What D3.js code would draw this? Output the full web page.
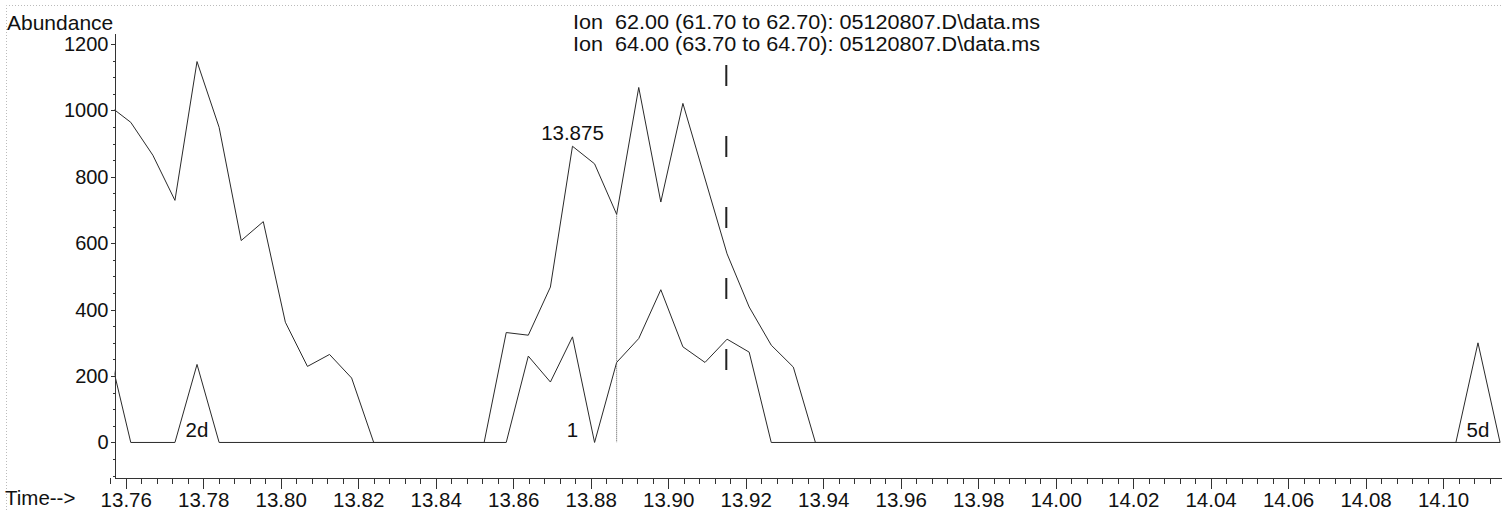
<!DOCTYPE html>
<html>
<head>
<meta charset="utf-8">
<script src="https://cdn.jsdelivr.net/npm/d3@7"></script>
<style>
    html, body { margin: 0; padding: 0; background: #fff; }
    svg { display: block; font-family: "Liberation Sans", Arial, Helvetica, sans-serif; }
    .trace { fill: none; stroke: #2a2a2a; stroke-width: 1; stroke-linejoin: miter; }
    .axis path, .axis line { stroke: #333; shape-rendering: crispEdges; }
    .axis text { fill: #111; }
</style>
</head>
<body>
<script>
// retention times of the scans (min), ion 62.00 trace
const ion62Times = [13.7556, 13.7613, 13.7670, 13.7727, 13.7784, 13.7841, 13.7898, 13.7955,
    13.8012, 13.8069, 13.8126, 13.8183, 13.8240, 13.8525, 13.8582, 13.8639, 13.8696, 13.8753,
    13.8810, 13.8867, 13.8924, 13.8981, 13.9038, 13.9152, 13.9209, 13.9266, 13.9323, 13.9380,
    14.1147];
const ion62Values = [1015, 964, 865, 729, 1147, 949, 608, 665,
    362, 229, 265, 194, 0, 0, 331, 323, 468, 892,
    839, 687, 1069, 724, 1021, 568, 408, 293, 227, 0,
    0];

// ion 64.00 trace
const ion64Times = [13.7556, 13.7613, 13.7727, 13.7784, 13.7841, 13.8582, 13.8639, 13.8696,
    13.8753, 13.8810, 13.8867, 13.8924, 13.8981, 13.9038, 13.9095, 13.9152, 13.9209, 13.9266,
    14.1033, 14.1090, 14.1147];
const ion64Values = [280, 0, 0, 235, 0, 0, 260, 182,
    318, 0, 241, 313, 460, 288, 241, 311, 272, 0,
    0, 300, 0];

// axis ticks
const xMajorTicks = [13.76, 13.78, 13.80, 13.82, 13.84, 13.86, 13.88, 13.90, 13.92,
    13.94, 13.96, 13.98, 14.00, 14.02, 14.04, 14.06, 14.08, 14.10];
const xTickLabels = ['13.76', '13.78', '13.80', '13.82', '13.84', '13.86', '13.88', '13.90', '13.92',
    '13.94', '13.96', '13.98', '14.00', '14.02', '14.04', '14.06', '14.08', '14.10'];
const yMajorTicks = [0, 200, 400, 600, 800, 1000, 1200];
const yTickLabels = ['0', '200', '400', '600', '800', '1000', '1200'];

// peak annotations
const peakLabels = [
    { time: 13.7784, value: 0, text: '2d', pos: 'inside' },
    { time: 13.8753, value: 0, text: '1', pos: 'inside' },
    { time: 14.1090, value: 0, text: '5d', pos: 'inside' },
    { time: 13.8753, value: 892, text: '13.875', pos: 'above' }
];
const dropLine = { time: 13.8867, value: 687 };
const cursorLine = { time: 13.915, top: 1137, bottom: 215 };

const headerLines = [
    'Ion  62.00 (61.70 to 62.70): 05120807.D\\data.ms',
    'Ion  64.00 (63.70 to 64.70): 05120807.D\\data.ms'
];

const width = 1502, height = 510;

const svg = d3.select('body').append('svg')
    .attr('width', width)
    .attr('height', height);

const x = d3.scaleLinear().domain([13.7571, 14.1152]).range([114.5, 1502]);
const y = d3.scaleLinear().domain([-107, 1233]).range([478, 33]);

// faint page frame from the printout
svg.append('path')
    .attr('d', `M6.5,510V5.5H${width}`)
    .attr('fill', 'none')
    .attr('stroke', '#bbb')
    .attr('stroke-dasharray', '1,2');

svg.append('defs').append('clipPath')
    .attr('id', 'plot-clip')
    .append('rect')
    .attr('x', 114.5).attr('y', 0)
    .attr('width', width - 114.5).attr('height', 478);

/**
 * Draws one ion trace as a polyline through its scan points.
 */
function drawTrace(times, values) {
    const pts = times.map((t, i) => [t, values[i]]);
    const line = d3.line().x(d => x(d[0])).y(d => y(d[1]));
    svg.append('path')
        .attr('class', 'trace')
        .attr('clip-path', 'url(#plot-clip)')
        .attr('d', line(pts));
}

drawTrace(ion62Times, ion62Values);
drawTrace(ion64Times, ion64Values);

// drop line of the integrated peak
svg.append('line')
    .attr('x1', x(dropLine.time)).attr('x2', x(dropLine.time))
    .attr('y1', y(dropLine.value)).attr('y2', y(0))
    .attr('stroke', '#555')
    .attr('stroke-dasharray', '1,1');

// dashed cursor marker
svg.append('line')
    .attr('x1', x(cursorLine.time)).attr('x2', x(cursorLine.time))
    .attr('y1', y(cursorLine.top)).attr('y2', y(cursorLine.bottom))
    .attr('stroke', '#222')
    .attr('stroke-width', 2)
    .attr('stroke-dasharray', '21,50');

// axes
const xAxis = svg.append('g')
    .attr('class', 'axis')
    .attr('transform', 'translate(0,478)')
    .call(d3.axisBottom(x)
        .tickValues(xMajorTicks)
        .tickFormat((d, i) => xTickLabels[i])
        .tickSize(11)
        .tickSizeOuter(0)
        .tickPadding(3));
xAxis.selectAll('text').attr('font-size', 20.5);

const xMinor = d3.range(13.756, 14.116, 0.004)
    .filter(t => !xMajorTicks.some(m => Math.abs(m - t) < 1e-6));
svg.append('g')
    .attr('class', 'axis')
    .attr('transform', 'translate(0,478)')
    .call(d3.axisBottom(x).tickValues(xMinor).tickFormat('').tickSize(6).tickSizeOuter(0))
    .select('.domain').remove();

const yAxis = svg.append('g')
    .attr('class', 'axis')
    .attr('transform', 'translate(114.5,0)')
    .call(d3.axisLeft(y)
        .tickValues(yMajorTicks)
        .tickFormat((d, i) => yTickLabels[i])
        .tickSize(4)
        .tickSizeOuter(0)
        .tickPadding(2));
yAxis.selectAll('text').attr('font-size', 20);

svg.append('g')
    .attr('class', 'axis')
    .attr('transform', 'translate(114.5,0)')
    .call(d3.axisLeft(y).tickValues(d3.range(-100, 1201, 50)).tickFormat('').tickSize(2).tickSizeOuter(0))
    .select('.domain').remove();

// peak labels
svg.selectAll('.peak-label')
    .data(peakLabels)
    .join('text')
    .attr('class', 'peak-label')
    .attr('x', d => x(d.time))
    .attr('y', d => d.pos === 'above' ? y(d.value) - 6 : y(d.value) - 5)
    .attr('text-anchor', 'middle')
    .attr('font-size', 20.5)
    .attr('fill', '#111')
    .text(d => d.text);

// titles
svg.append('text')
    .attr('x', 7).attr('y', 30)
    .attr('font-size', 21)
    .attr('fill', '#111')
    .text('Abundance');

svg.append('text')
    .attr('x', 5).attr('y', 505)
    .attr('font-size', 20.5)
    .attr('fill', '#111')
    .text('Time-->');

// two header lines, stretched to the printed width
svg.selectAll('.header')
    .data(headerLines)
    .join('text')
    .attr('class', 'header')
    .attr('x', 573)
    .attr('y', (d, i) => 28.5 + i * 22.5)
    .attr('font-size', 19.5)
    .attr('textLength', 467)
    .attr('lengthAdjust', 'spacingAndGlyphs')
    .attr('fill', '#111')
    .attr('xml:space', 'preserve')
    .style('white-space', 'pre')
    .text(d => d);
</script>
</body>
</html>
